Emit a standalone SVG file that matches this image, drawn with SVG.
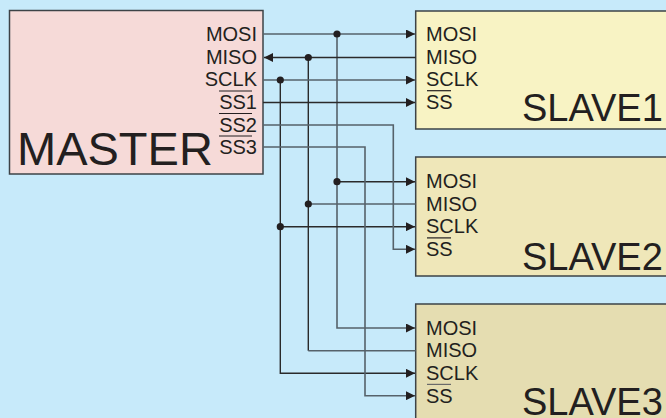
<svg xmlns="http://www.w3.org/2000/svg" width="666" height="418" viewBox="0 0 666 418">
<style>
text{font-family:"Liberation Sans",Arial,sans-serif;fill:#231f20}
.lbl{font-size:20px}
.big{font-size:38px}
.box{stroke:#3d4347;stroke-width:1.5}
.w{fill:none;stroke:#2a2a2a;stroke-width:1.4}
.g{fill:none;stroke:#56626a;stroke-width:1.6}
.ov{stroke:#231f20;stroke-width:1.2}
.d{fill:#231f20}
</style>
<defs>
<marker id="ar" viewBox="0 0 10 10" refX="10" refY="5" markerWidth="9" markerHeight="9" markerUnits="userSpaceOnUse" orient="auto">
<path d="M0,0 L10,5 L0,10 z" fill="#231f20"/>
</marker>
</defs>
<rect width="666" height="418" fill="#c7eafa"/>
<g id="master">
<rect class="box" x="9.5" y="10.5" width="253.5" height="163.5" fill="#f6dad8"/>
<text class="lbl" x="257" y="41" text-anchor="end">MOSI</text>
<text class="lbl" x="257" y="63.5" text-anchor="end">MISO</text>
<text class="lbl" x="257" y="86" text-anchor="end">SCLK</text>
<text class="lbl" x="257" y="109" text-anchor="end">SS1</text>
<text class="lbl" x="257" y="131.5" text-anchor="end">SS2</text>
<text class="lbl" x="257" y="154" text-anchor="end">SS3</text>
<line class="ov" x1="219" y1="91" x2="252" y2="91"/>
<line class="ov" x1="219" y1="113.5" x2="252" y2="113.5"/>
<line class="ov" x1="219" y1="136" x2="252" y2="136"/>
<text x="17" y="165" style="font-size:47px">MASTER</text>
</g>
<g id="slave1">
<rect class="box" x="415.7" y="11" width="260" height="118" fill="#f8f3c4"/>
<text class="lbl" x="426" y="41">MOSI</text>
<text class="lbl" x="426" y="63.5">MISO</text>
<text class="lbl" x="426" y="86">SCLK</text>
<text class="lbl" x="426" y="109">SS</text>
<line class="ov" x1="427" y1="90.7" x2="451" y2="90.7"/>
<text class="big" x="522" y="121">SLAVE1</text>
</g>
<g id="slave2">
<rect class="box" x="415.7" y="157" width="260" height="119" fill="#efe7b9"/>
<text class="lbl" x="426" y="188.2">MOSI</text>
<text class="lbl" x="426" y="210.7">MISO</text>
<text class="lbl" x="426" y="233.2">SCLK</text>
<text class="lbl" x="426" y="256.2">SS</text>
<line class="ov" x1="427" y1="237.9" x2="451" y2="237.9"/>
<text class="big" x="522" y="270">SLAVE2</text>
</g>
<g id="slave3">
<rect class="box" x="415.7" y="304" width="260" height="130" fill="#e5ddb1"/>
<text class="lbl" x="426" y="334.7">MOSI</text>
<text class="lbl" x="426" y="357.2">MISO</text>
<text class="lbl" x="426" y="379.7">SCLK</text>
<text class="lbl" x="426" y="402.5">SS</text>
<line class="ov" x1="427" y1="384.4" x2="451" y2="384.4" style="stroke:#6a6a6a"/>
<text class="big" x="522" y="415">SLAVE3</text>
</g>
<g id="connectors">
<path class="g" d="M263,34 H415" marker-end="url(#ar)"/>
<path class="g" d="M337,34 V328 H415" marker-end="url(#ar)"/>
<path class="w" d="M337,181.7 H415" marker-end="url(#ar)"/>
<path class="w" d="M415.7,57.5 H264" marker-end="url(#ar)"/>
<path class="w" d="M308.3,57.5 V350.7"/>
<path class="g" d="M308.3,350.7 H415.7"/>
<path class="g" d="M308.3,204 H415.7"/>
<path class="g" d="M263,80 H415" marker-end="url(#ar)"/>
<path class="w" d="M280.3,80 V373.3 H415" marker-end="url(#ar)"/>
<path class="w" d="M280.3,226.7 H415" marker-end="url(#ar)"/>
<path class="w" d="M263,102.5 H415" marker-end="url(#ar)"/>
<path class="g" d="M263,125 H393.3 V249.3 H415" marker-end="url(#ar)"/>
<path class="g" d="M263,147 H365 V395.7 H415" marker-end="url(#ar)"/>
<circle class="d" cx="337" cy="34" r="3.6"/>
<circle class="d" cx="337" cy="181.7" r="3.6"/>
<circle class="d" cx="308.3" cy="57.5" r="3.6"/>
<circle class="d" cx="308.3" cy="204" r="3.6"/>
<circle class="d" cx="280.3" cy="80" r="3.6"/>
<circle class="d" cx="280.3" cy="226.7" r="3.6"/>
</g>
</svg>
